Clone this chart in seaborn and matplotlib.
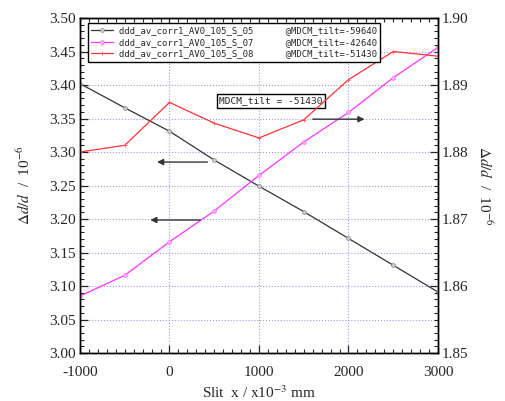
import numpy as np
import pandas as pd
import matplotlib
matplotlib.use('Agg')
import matplotlib.pyplot as plt
import seaborn as sns
from matplotlib.ticker import MultipleLocator, FormatStrFormatter

# slit positions (x10^-3 mm)
slit_x = [-1000, -500, 0, 500, 1000, 1500, 2000, 2500, 3000]

# left axis series
s05 = [3.402, 3.366, 3.331, 3.288, 3.249, 3.211, 3.171, 3.131, 3.091]
s07 = [3.085, 3.116, 3.166, 3.212, 3.265, 3.315, 3.359, 3.411, 3.456]
# right axis series
s08 = [1.8800, 1.8810, 1.8874, 1.8843, 1.8821, 1.8848, 1.8908, 1.8950, 1.8943]

labels = ['ddd_av_corr1_AV0_105_S_05      @MDCM_tilt=-59640',
          'ddd_av_corr1_AV0_105_S_07      @MDCM_tilt=-42640',
          'ddd_av_corr1_AV0_105_S_08      @MDCM_tilt=-51430']
box_text = 'MDCM_tilt = -51430'

sns.set_style('ticks')
plt.rcParams['font.family'] = ['Liberation Serif', 'DejaVu Serif']
plt.rcParams['mathtext.fontset'] = 'stix'
plt.rcParams['axes.unicode_minus'] = False

df = pd.DataFrame({'x': slit_x, 's05': s05, 's07': s07, 's08': s08})

fig = plt.figure(figsize=(5.05, 4.01), dpi=100)
ax = fig.add_axes([0.1584, 0.1197, 0.7089, 0.8354])
ax2 = ax.twinx()

sns.lineplot(data=df, x='x', y='s05', ax=ax, color='#333333', lw=0.9,
             marker='o', markersize=2.8, markerfacecolor='#cccccc',
             markeredgecolor='#888888', markeredgewidth=0.5, label=labels[0], legend=False)
sns.lineplot(data=df, x='x', y='s07', ax=ax, color='#ff33ff', lw=0.9,
             marker='o', markersize=2.8, markerfacecolor='#ffaaff',
             markeredgecolor='#ff77ff', markeredgewidth=0.5, label=labels[1], legend=False)
sns.lineplot(data=df, x='x', y='s08', ax=ax2, color='#ff3333', lw=0.9,
             marker='+', markersize=3, markeredgecolor='#ff5555',
             markeredgewidth=0.6, label=labels[2], legend=False)

ax.set_xlim(-1000, 3000)
ax.set_ylim(3.0, 3.5)
ax2.set_ylim(1.85, 1.90)

ax.xaxis.set_major_locator(MultipleLocator(1000))
ax.xaxis.set_minor_locator(MultipleLocator(100))
ax.yaxis.set_major_locator(MultipleLocator(0.05))
ax.yaxis.set_minor_locator(MultipleLocator(0.01))
ax2.yaxis.set_major_locator(MultipleLocator(0.01))
ax2.yaxis.set_minor_locator(MultipleLocator(0.001))
ax.yaxis.set_major_formatter(FormatStrFormatter('%.2f'))
ax2.yaxis.set_major_formatter(FormatStrFormatter('%.2f'))

ax.grid(True, which='major', color='#9999ff', linestyle=':', linewidth=0.8)
ax.set_axisbelow(True)

ax.tick_params(axis='x', which='both', direction='in', top=True, labelsize=11, pad=9)
ax.tick_params(axis='y', which='both', direction='in', right=False, labelsize=11, pad=3)
ax.tick_params(which='major', length=6, width=0.9)
ax.tick_params(which='minor', length=3, width=0.8)
ax2.tick_params(axis='y', which='both', direction='in', labelsize=11, pad=3)
ax2.tick_params(which='major', length=6, width=0.9)
ax2.tick_params(which='minor', length=3, width=0.8)
for a in (ax, ax2):
    for s in a.spines.values():
        s.set_linewidth(1.0)
        s.set_color('black')

ax.set_xlabel('Slit  x / x10$^{-3}$ mm', fontsize=11, labelpad=4)
ax.set_ylabel('$\\Delta d/d$  /  10$^{-6}$', fontsize=11, labelpad=12)
ax2.set_ylabel('$\\Delta d/d$  /  10$^{-6}$', fontsize=11, rotation=270, labelpad=18)

# arrows to indicate the axis of each series
arrow = dict(arrowstyle='-|>', color='#333333', lw=1.0, mutation_scale=9)
ax.annotate('', xy=(-170, 3.285), xytext=(455, 3.285), arrowprops=arrow)
ax.annotate('', xy=(-245, 3.1985), xytext=(375, 3.1985), arrowprops=arrow)
ax.annotate('', xy=(2210, 3.349), xytext=(1570, 3.349), arrowprops=arrow)

ax.text(1130, 3.376, box_text, family='DejaVu Sans Mono', fontsize=6.8,
        ha='center', va='center', zorder=10,
        bbox=dict(boxstyle='square,pad=0.25', fc='white', ec='black', lw=1.0))

h1, l1 = ax.get_legend_handles_labels()
h2, l2 = ax2.get_legend_handles_labels()
leg = ax2.legend(h1 + h2, l1 + l2, loc='upper left', bbox_to_anchor=(0.022, 0.985),
                 prop={'family': 'DejaVu Sans Mono', 'size': 6.4}, frameon=True,
                 fancybox=False, edgecolor='black', framealpha=1, borderpad=0.35,
                 handlelength=2.5, handletextpad=0.6, labelspacing=0.3, borderaxespad=0)
leg.get_frame().set_linewidth(1.0)

fig.savefig('out.png', dpi=100)
